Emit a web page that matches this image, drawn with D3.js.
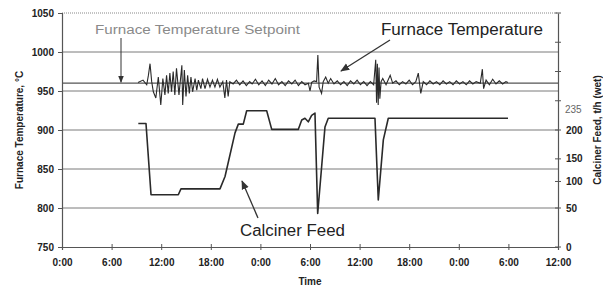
<!DOCTYPE html>
<html>
<head>
<meta charset="utf-8">
<script src="https://cdn.jsdelivr.net/npm/d3@7"></script>
<style>
body{margin:0;background:#fff;}
text{font-family:"Liberation Sans",Arial,sans-serif;}
</style>
</head>
<body>
<div id="chart"></div>
<script>
// time in hours from first 0:00
let timeTicks = [0,6,12,18,24,30,36,42,48,54,60];
let timeLabels = ["0:00","6:00","12:00","18:00","0:00","6:00","12:00","18:00","0:00","6:00","12:00"];
let tempTicks = [750,800,850,900,950,1000,1050];
let feedTicks = [0,50,100,150,200,250,300,350,400];
let feedLabels = ["0","50","100","150","200","","","",""];
let setpoint = 960;

// feed axis calibration against the temperature axis (feed value -> temperature value)
let feedCal = [0,50,100,150,200,400];
let feedCalTemp = [750,800,834,863,900,1050];

let tempData = [
 [9.2,961],[9.8,964],[10.25,958],[10.45,970],[10.65,985],[10.85,962],[11.05,949],[11.35,941],
 [11.65,968],[11.95,932],[12.2,966],[12.45,945],[12.65,970],[12.85,947],[13.05,973],[13.25,949],
 [13.45,975],[13.65,945],[13.85,979],[14.15,945],[14.5,983],[14.6,932],[14.8,977],[15.0,943],
 [15.2,970],[15.4,947],[15.6,968],[15.8,949],[16.1,966],[16.3,951],[16.5,964],[16.8,953],
 [17.0,966],[17.3,953],[17.6,965],[17.9,955],[18.2,964],[18.5,955],[18.8,965],[19.1,955],
 [19.45,962],[19.7,941],[19.9,964],[20.1,943],[20.3,962],[20.7,959],[21.1,964],
 [21.5,958],[21.9,963],[22.3,957],[22.7,962],[23.0,959],[23.4,965],[23.8,958],[24.2,963],
 [24.6,957],[25.0,964],[25.4,959],[25.8,966],[26.2,958],[26.6,962],[27.0,957],[27.4,963],
 [27.8,959],[28.2,964],[28.6,957],[29.0,962],[29.4,958],[29.8,960],[30.0,950],[30.2,961],
 [30.5,963],[30.8,962],[30.95,996],[31.1,955],[31.4,947],[31.6,962],[31.9,968],[32.2,960],
 [32.5,966],[32.9,959],[33.3,963],[33.7,958],[34.1,962],[34.5,957],[34.9,963],[35.3,959],
 [35.7,964],[36.1,958],[36.5,962],[36.9,957],[37.3,962],[37.7,958],
 [37.95,990],[38.05,935],[38.15,985],[38.25,932],[38.35,980],[38.45,940],[38.6,962],[38.8,966],
 [39.2,958],[39.7,970],[40.0,960],[40.4,963],[40.8,958],[41.2,962],[41.6,959],[42.0,964],
 [42.4,958],[42.8,962],[43.1,973],[43.4,947],[43.7,962],[44.1,958],[44.5,963],[44.9,959],
 [45.3,962],[45.7,958],[46.1,963],[46.5,959],[46.9,962],[47.3,958],[47.7,963],[48.1,959],
 [48.5,962],[48.9,958],[49.3,963],[49.7,959],[50.1,962],[50.6,960],[50.85,978],[51.0,953],
 [51.3,964],[51.7,958],[52.1,965],[52.5,959],[52.9,963],[53.3,959],[53.7,962],[53.95,961]
];

let feedData = [
 [9.23,211],[10.16,211],[10.77,75],[14.07,75],[14.39,86],[19.11,86],[19.72,111],[20.93,195],
 [21.33,210],[21.93,210],[22.34,233],[24.76,233],[25.37,201],[28.58,201],[29.0,217],[29.39,220],
 [29.79,214],[30.2,225],[30.6,229],[30.93,43],[31.41,133],[31.81,205],[32.21,220],[37.86,220],
 [38.26,65],[38.87,183],[39.47,220],[53.95,220]
];

let width = 603, height = 288;
let margin = {left: 62, right: 45, top: 13, bottom: 41};

let svg = d3.select("#chart").append("svg")
    .attr("width", width)
    .attr("height", height);

let defs = svg.append("defs");
defs.append("marker")
    .attr("id", "arrow")
    .attr("viewBox", "0 0 10 10")
    .attr("refX", 9).attr("refY", 5)
    .attr("markerWidth", 7).attr("markerHeight", 7)
    .attr("orient", "auto")
  .append("path")
    .attr("d", "M0,1 L10,5 L0,9 Z")
    .attr("fill", "#333");

let x = d3.scaleLinear().domain([0, 60]).range([margin.left, width - margin.right]);
let y = d3.scaleLinear().domain([750, 1050]).range([height - margin.bottom, margin.top]);
let feedToTemp = d3.scaleLinear().domain(feedCal).range(feedCalTemp);
let yR = function(v){ return y(feedToTemp(v)); };

// grid
let grid = svg.append("g");
tempTicks.slice(1, -1).forEach(function(t){
    grid.append("line")
        .attr("x1", x(0)).attr("x2", x(60))
        .attr("y1", y(t)).attr("y2", y(t))
        .attr("stroke", "#7a7a7a").attr("stroke-width", 1);
});
grid.append("line")
    .attr("x1", x(0)).attr("x2", x(60))
    .attr("y1", y(1050)).attr("y2", y(1050))
    .attr("stroke", "#888").attr("stroke-width", 1)
    .style("stroke-dasharray", "1,1");

// setpoint
svg.append("line")
    .attr("x1", x(0)).attr("x2", x(60))
    .attr("y1", y(setpoint)).attr("y2", y(setpoint))
    .attr("stroke", "#555").attr("stroke-width", 1.3);

// axes
let axL = svg.append("g").attr("transform", "translate(" + x(0) + ",0)")
    .call(d3.axisLeft(y).tickValues(tempTicks).tickSize(4).tickPadding(4).tickFormat(d3.format("d")));
let axR = svg.append("g").attr("transform", "translate(" + x(60) + ",0)")
    .call(d3.axisRight(d3.scaleLinear().domain([0,400]).range([y(750), y(1050)]))
        .tickValues([]).tickSize(0));
let axB = svg.append("g").attr("transform", "translate(0," + y(750) + ")")
    .call(d3.axisBottom(x).tickValues(timeTicks).tickSize(3).tickPadding(9)
        .tickFormat(function(d,i){ return timeLabels[i]; }));

[axL, axR, axB].forEach(function(a){
    a.select(".domain").attr("stroke", "#555").attr("stroke-width", 1.2);
    a.selectAll(".tick line").attr("stroke", "#555");
    a.selectAll(".tick text")
        .attr("fill", "#222")
        .attr("font-size", 10)
        .attr("font-weight", "bold")
        .attr("font-family", "'Liberation Sans', Arial, sans-serif");
});
axB.selectAll(".tick line").attr("y1", -3).attr("y2", 3);

// right axis ticks, drawn through the feed calibration
let rt = svg.append("g");
feedTicks.forEach(function(v, i){
    rt.append("line")
        .attr("x1", x(60) - 3).attr("x2", x(60) + 3)
        .attr("y1", yR(v)).attr("y2", yR(v))
        .attr("stroke", "#555");
    if(feedLabels[i] !== ""){
        rt.append("text")
            .attr("x", x(60) + 8).attr("y", yR(v)).attr("dy", "0.35em")
            .text(feedLabels[i])
            .attr("fill", "#222").attr("font-size", 10).attr("font-weight", "bold");
    }
});
rt.append("text")
    .attr("x", x(60) + 7).attr("y", yR(235)).attr("dy", "0.35em")
    .text("235")
    .attr("fill", "#666").attr("font-size", 10);

// lines
let line = d3.line().x(function(d){ return x(d[0]); });
svg.append("path")
    .datum(tempData)
    .attr("d", line.y(function(d){ return y(d[1]); }))
    .attr("fill", "none").attr("stroke", "#2a2a2a").attr("stroke-width", 1.1);

let feedLine = d3.line().x(function(d){ return x(d[0]); }).y(function(d){ return yR(d[1]); });
svg.append("path")
    .datum(feedData)
    .attr("d", feedLine)
    .attr("fill", "none").attr("stroke", "#2a2a2a").attr("stroke-width", 1.6)
    .attr("stroke-linejoin", "round");

// axis titles
svg.append("text")
    .attr("transform", "translate(23," + y(900) + ") rotate(-90)")
    .attr("text-anchor", "middle")
    .text("Furnace Temperature, °C")
    .attr("fill", "#222").attr("font-size", 10).attr("font-weight", "bold");
svg.append("text")
    .attr("transform", "translate(601," + y(900) + ") rotate(-90)")
    .attr("text-anchor", "middle")
    .text("Calciner Feed, t/h (wet)")
    .attr("fill", "#222").attr("font-size", 10).attr("font-weight", "bold");
svg.append("text")
    .attr("x", x(30)).attr("y", 285)
    .attr("text-anchor", "middle")
    .text("Time")
    .attr("fill", "#222").attr("font-size", 10).attr("font-weight", "bold");

// annotations
svg.append("text")
    .attr("x", 95).attr("y", 34)
    .attr("textLength", 205).attr("lengthAdjust", "spacingAndGlyphs")
    .text("Furnace Temperature Setpoint")
    .attr("fill", "#8a8a8a").attr("font-size", 12.5);
svg.append("line")
    .attr("x1", 121).attr("y1", 38)
    .attr("x2", 121).attr("y2", y(setpoint) - 1)
    .attr("stroke", "#333").attr("stroke-width", 1)
    .attr("marker-end", "url(#arrow)");

svg.append("text")
    .attr("x", 381).attr("y", 35)
    .attr("textLength", 162).attr("lengthAdjust", "spacingAndGlyphs")
    .text("Furnace Temperature")
    .attr("fill", "#222").attr("font-size", 16);
svg.append("line")
    .attr("x1", 390).attr("y1", 40)
    .attr("x2", 341).attr("y2", 71)
    .attr("stroke", "#333").attr("stroke-width", 1.3)
    .attr("marker-end", "url(#arrow)");

svg.append("text")
    .attr("x", 240).attr("y", 236)
    .attr("textLength", 105).attr("lengthAdjust", "spacingAndGlyphs")
    .text("Calciner Feed")
    .attr("fill", "#222").attr("font-size", 16);
svg.append("line")
    .attr("x1", 258).attr("y1", 218)
    .attr("x2", 242).attr("y2", 181)
    .attr("stroke", "#333").attr("stroke-width", 1.3)
    .attr("marker-end", "url(#arrow)");
</script>
</body>
</html>
